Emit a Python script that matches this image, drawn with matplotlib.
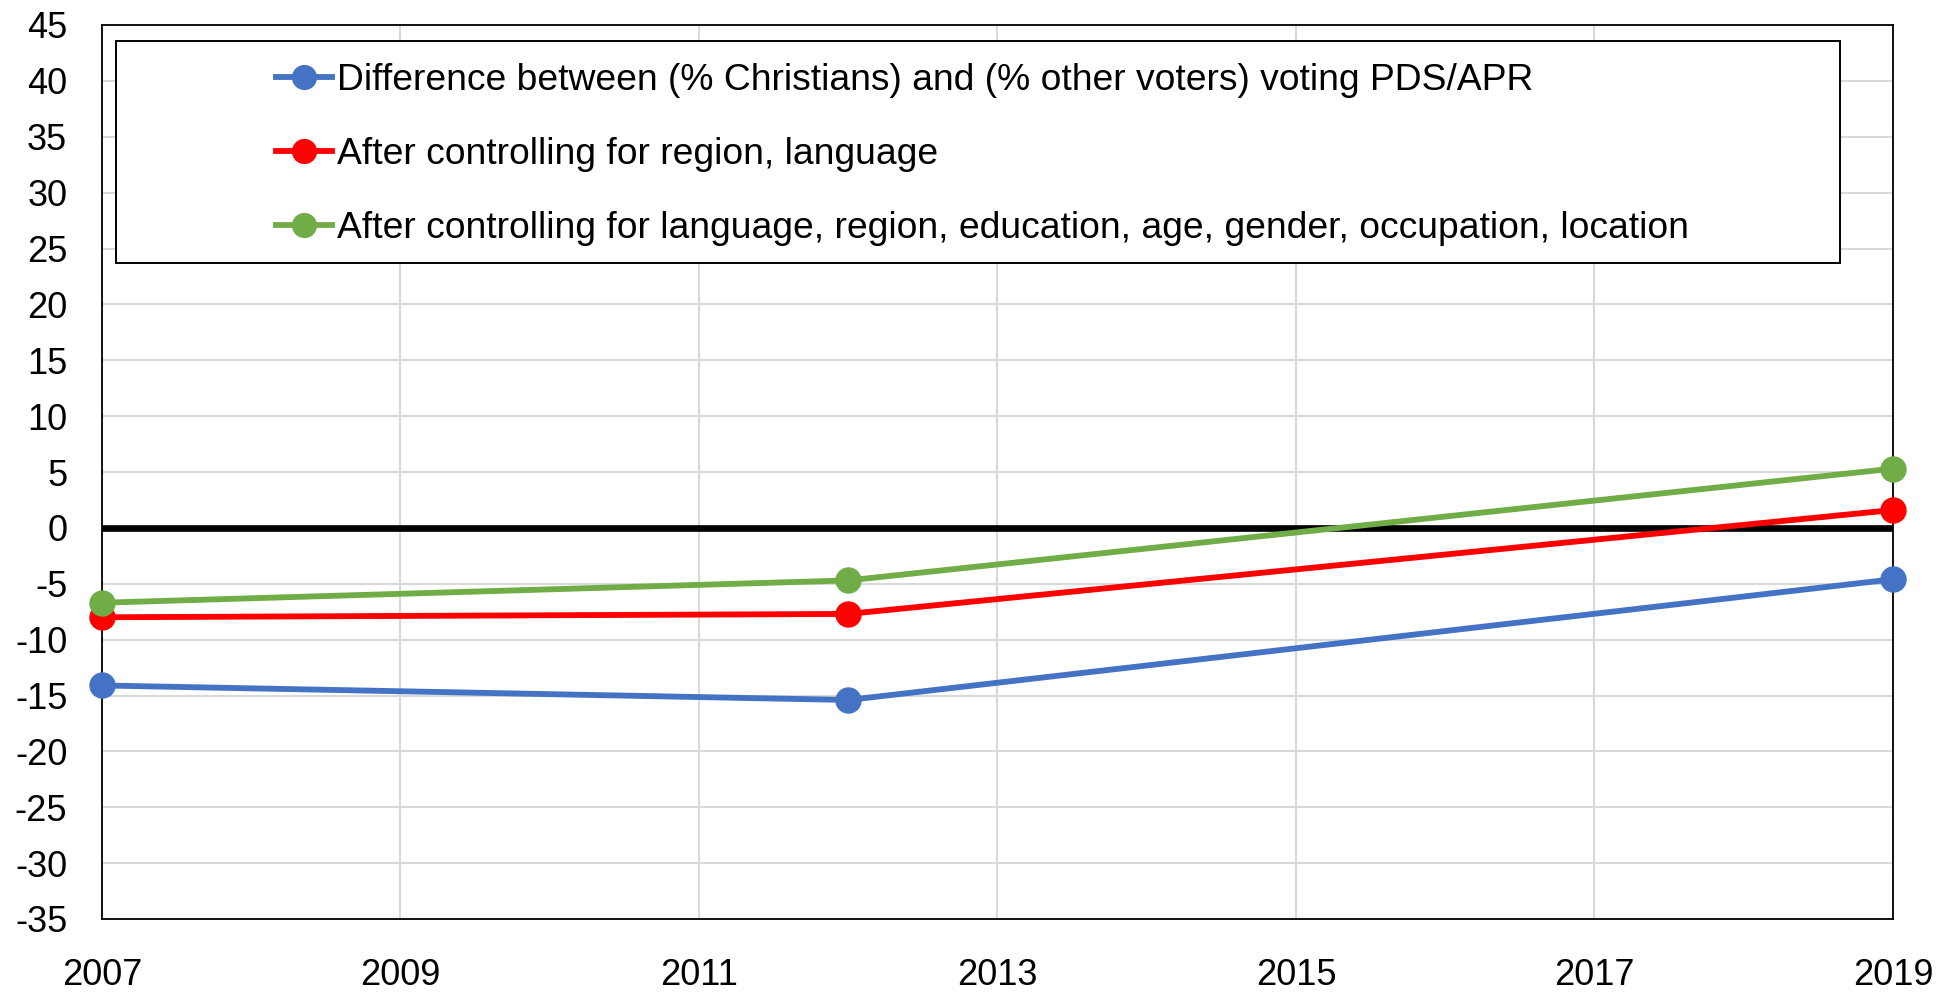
import matplotlib.pyplot as plt
from matplotlib.patches import Rectangle

# survey years and gaps (percentage points)
years = [2007, 2012, 2019]
raw_gap = [-14.1, -15.4, -4.6]
ctrl_region_lang = [-8.0, -7.7, 1.6]
ctrl_full = [-6.7, -4.7, 5.3]

labels = [
    'Difference between (% Christians) and (% other voters) voting PDS/APR',
    'After controlling for region, language',
    'After controlling for language, region, education, age, gender, occupation, location',
]
colors = ['#4472C4', '#FF0000', '#70AD47']

x_ticks = list(range(2007, 2020, 2))
y_ticks = list(range(-35, 46, 5))

plt.rcParams['font.family'] = ['Liberation Sans', 'DejaVu Sans']
plt.rcParams['axes.unicode_minus'] = False

fig = plt.figure(figsize=(19.57, 9.92), dpi=100)
ax = fig.add_axes([102 / 1957, 1 - 919 / 992, (1893 - 102) / 1957, (919 - 25) / 992])

for series, col, lab in zip([raw_gap, ctrl_region_lang, ctrl_full], colors, labels):
    ax.plot(years, series, color=col, lw=4.2, marker='o', markersize=18,
            label=lab, clip_on=False, zorder=4)

ax.axhline(0, color='black', lw=4.8, zorder=3)

ax.set_xlim(2007, 2019)
ax.set_ylim(-35, 45)
ax.set_xticks(x_ticks)
ax.set_yticks(y_ticks)
ax.tick_params(axis='both', length=0, labelsize=26)
ax.tick_params(axis='x', pad=28)
ax.tick_params(axis='y', pad=25)
ax.grid(True, color='#D9D9D9', lw=1.5, zorder=0)
ax.set_axisbelow(True)
for sp in ax.spines.values():
    sp.set_color('black')
    sp.set_linewidth(1.3)

# legend frame drawn separately so the entries can sit off-centre inside it
frame = Rectangle((115.7 / 1957, 1 - 263.3 / 992), (1840 - 115.7) / 1957,
                  (263.3 - 40.7) / 992, transform=fig.transFigure,
                  facecolor='white', edgecolor='black', lw=1.4, zorder=5)
fig.patches.append(frame)

leg = fig.legend(loc='center left', bbox_to_anchor=(276 / 1957, 1 - 154.5 / 992),
                 frameon=False, fontsize=26.8, borderpad=0, borderaxespad=0,
                 handlelength=1.5, handletextpad=0.15, labelspacing=1.05,
                 markerscale=0.95)
leg.set_zorder(6)

fig.savefig('out.png', dpi=100)
